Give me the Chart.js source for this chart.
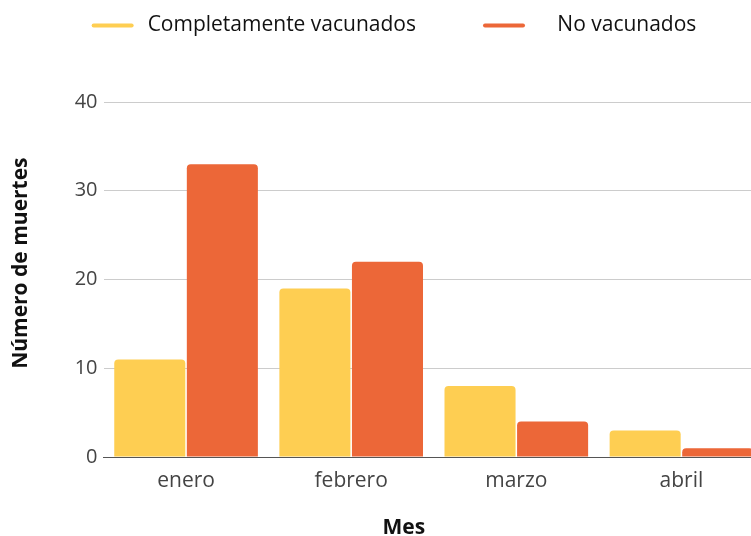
<!DOCTYPE html>
<html lang="es">
<head>
  <meta charset="UTF-8">
  <title>Número de muertes por mes</title>
  <script src="https://cdn.jsdelivr.net/npm/chart.js"></script>
  <style>
    html, body {
      margin: 0;
      padding: 0;
      background: #fff;
      overflow: hidden;
    }
    .wrap {
      width: 764px;
      height: 536px;
    }
  </style>
</head>
<body>
  <div class="wrap"><canvas id="deathsChart"></canvas></div>

  <script>
    const months = ['enero', 'febrero', 'marzo', 'abril'];
    const vaccinated = [11, 19, 8, 3];
    const unvaccinated = [33, 22, 4, 1];
    const yTicks = [0, 10, 20, 30, 40];

    Chart.defaults.font.family = "'Open Sans', sans-serif";

    // legend sits high, plot starts well below it
    const legendSpace = {
      id: 'legendSpace',
      beforeInit(chart) {
        const origFit = chart.legend.fit;
        chart.legend.fit = function () {
          origFit.call(this);
          this.height = 154;
        };
      }
    };

    // a bit more room between the swatch and its text
    const labelGap = ['\u2009', '    '];

    new Chart(document.getElementById('deathsChart'), {
      type: 'bar',
      data: {
        labels: months,
        datasets: [
          {
            label: 'Completamente vacunados',
            data: vaccinated,
            backgroundColor: '#FECE52',
            borderWidth: 0,
            borderRadius: 4
          },
          {
            label: 'No vacunados',
            data: unvaccinated,
            backgroundColor: '#EC6738',
            borderWidth: 0,
            borderRadius: 4
          }
        ]
      },
      options: {
        responsive: true,
        maintainAspectRatio: false,
        animation: false,
        categoryPercentage: 0.879,
        barPercentage: 0.979,
        layout: {
          padding: { top: -52, left: 24, right: 0, bottom: 0 }
        },
        plugins: {
          legend: {
            position: 'top',
            labels: {
              boxWidth: 42,
              boxHeight: 4,
              useBorderRadius: true,
              borderRadius: 2,
              padding: 67,
              color: '#111',
              font: { size: 21 },
              generateLabels(chart) {
                const items = Chart.defaults.plugins.legend.labels.generateLabels(chart);
                items.forEach((it, i) => { it.text = labelGap[i] + it.text; });
                return items;
              }
            }
          },
          tooltip: { enabled: false }
        },
        scales: {
          x: {
            grid: { display: true, drawOnChartArea: false, drawTicks: false },
            border: { display: true, color: '#555', width: 1 },
            ticks: { color: '#444', font: { size: 21 }, padding: 11 },
            title: {
              display: true,
              text: 'Mes           ',
              color: '#111',
              font: { size: 21, weight: 'bold', lineHeight: 1 },
              padding: { top: 0, bottom: -3 }
            },
            afterFit(scale) { scale.height = 79; }
          },
          y: {
            min: 0,
            max: 40,
            afterBuildTicks(scale) {
              scale.ticks = yTicks.map(v => ({ value: v }));
            },
            grid: { color: '#ccc', drawTicks: false },
            border: { display: false },
            ticks: { color: '#444', font: { size: 20 }, padding: 6 },
            title: {
              display: true,
              text: '      Número de muertes',
              color: '#111',
              font: { size: 21, weight: 'bold', lineHeight: 1 },
              padding: { top: -13.5, bottom: 0 }
            },
            afterFit(scale) { scale.width = 79.5; }
          }
        }
      },
      plugins: [legendSpace]
    });
  </script>
</body>
</html>
